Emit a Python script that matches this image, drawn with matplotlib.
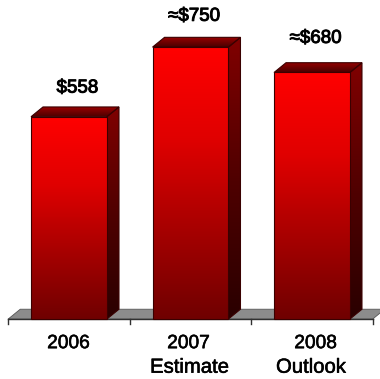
import numpy as np
import matplotlib
matplotlib.use('Agg')
import matplotlib.pyplot as plt
import matplotlib.patheffects as pe
from matplotlib.colors import LinearSegmentedColormap
from matplotlib.patches import Polygon

plt.rcParams['font.family'] = ['Liberation Sans', 'DejaVu Sans']

years = ['2006', '2007', '2008']
subtitles = ['', 'Estimate', 'Outlook']
values = [558, 750, 680]
value_labels = ['$558', '\u2248$750', '\u2248$680']

W, H = 380, 379
BAR_W = 0.625
DX = 0.0988   # 3d depth, x part (category units)
DY = 27.0     # 3d depth, y part (value units)
x_left, x_right = -69 / 121.5, 311 / 121.5
y_bot, y_top = -60 / 0.3625, 319 / 0.3625

# hand placed label nudges
value_dx = [0.07, 0.03, 0.03]
value_dy = [52, 58, 67]
year_dx = [-0.004, -0.016, 0.03]
sub_dx = [0, -0.008, -0.008]

front_cmap = LinearSegmentedColormap.from_list('front', ['#700000', '#a80000', '#e00000', '#ff0000'])
side_cmap = LinearSegmentedColormap.from_list('side', ['#2a0000', '#500000', '#800000'])
top_cmap = LinearSegmentedColormap.from_list('top', ['#4a0000', '#980000'])


def gradient_poly(ax, pts, cmap, y0, y1, zorder):
    # vertical gradient clipped to a polygon
    poly = Polygon(pts, closed=True, facecolor='none', edgecolor='#3a0000', lw=0.8, zorder=zorder + 0.1)
    ax.add_patch(poly)
    xs = [p[0] for p in pts]
    grad = np.linspace(1, 0, 128).reshape(-1, 1)
    im = ax.imshow(grad, cmap=cmap, aspect='auto', extent=(min(xs), max(xs), y0, y1), zorder=zorder, vmin=0, vmax=1)
    im.set_clip_path(poly)


fig = plt.figure(figsize=(W / 100, H / 100), dpi=100)
ax = fig.add_axes([0, 0, 1, 1])

# floor and baseline
fx0, fx1 = -0.5, 2.5
ax.add_patch(Polygon([(fx0, 0), (fx1, 0), (fx1 + DX, DY), (fx0 + DX, DY)], closed=True,
                     facecolor='#8c8c8c', edgecolor='#555555', lw=0.6, zorder=1))
ax.plot([fx0, fx1], [0, 0], color='#303030', lw=1.0, zorder=2)
for t in [-0.5, 0.5, 1.5, 2.5]:
    ax.plot([t, t], [0, -14], color='#303030', lw=1.0, zorder=2)

for i, v in enumerate(values):
    l, r = i - BAR_W / 2, i + BAR_W / 2
    gradient_poly(ax, [(l, 0), (r, 0), (r, v), (l, v)], front_cmap, 0, v, 5)
    gradient_poly(ax, [(r, 0), (r + DX, DY), (r + DX, v + DY), (r, v)], side_cmap, 0, v + DY, 4)
    gradient_poly(ax, [(l, v), (r, v), (r + DX, v + DY), (l + DX, v + DY)], top_cmap, v, v + DY, 4)

stroke = [pe.withStroke(linewidth=0.7, foreground='black')]
thin = [pe.withStroke(linewidth=0.4, foreground='black')]
for i, v in enumerate(values):
    ax.text(i + value_dx[i], v + DY + value_dy[i], value_labels[i], ha='center', va='center', fontsize=13.5,
            color='black', path_effects=stroke, zorder=6)
    ax.text(i + year_dx[i], -68, years[i], ha='center', va='center', fontsize=13.8, color='black',
            path_effects=thin)
    if subtitles[i]:
        ax.text(i + sub_dx[i], -133, subtitles[i], ha='center', va='center', fontsize=14.6, color='black',
                path_effects=thin)

ax.set_xlim(x_left, x_right)
ax.set_ylim(y_bot, y_top)
ax.axis('off')
fig.savefig('out.png', dpi=100)
